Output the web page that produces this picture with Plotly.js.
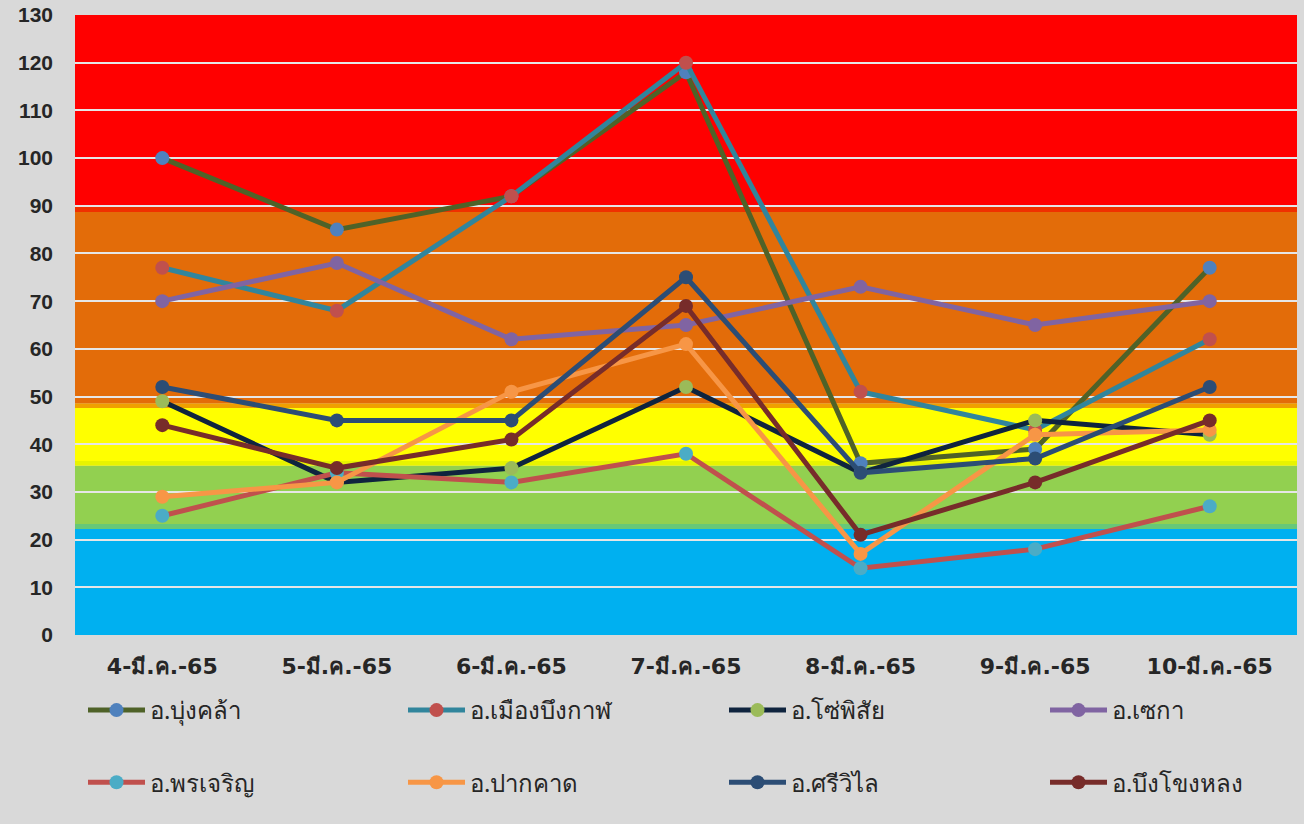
<!DOCTYPE html>
<html><head><meta charset="utf-8">
<script src="https://cdn.plot.ly/plotly-3.0.1.min.js"></script>
<style>body{margin:0;background:#d9d9d9}</style>
</head><body>
<div id="chart" style="width:1304px;height:824px"></div>
<script>
const categories = ['4-มี.ค.-65','5-มี.ค.-65','6-มี.ค.-65','7-มี.ค.-65','8-มี.ค.-65','9-มี.ค.-65','10-มี.ค.-65'];
const seriesNames = ['อ.บุ่งคล้า','อ.เมืองบึงกาฬ','อ.โซ่พิสัย','อ.เซกา','อ.พรเจริญ','อ.ปากคาด','อ.ศรีวิไล','อ.บึงโขงหลง'];
const bungKhla   = [100, 85, 92, 118, 36, 39, 77];
const mueang     = [77, 68, 92, 120, 51, 43, 62];
const soPhisai   = [49, 32, 35, 52, 34, 45, 42];
const seka       = [70, 78, 62, 65, 73, 65, 70];
const phonCharoen= [25, 34, 32, 38, 14, 18, 27];
const pakKhat    = [29, 32, 51, 61, 17, 42, 43];
const siWilai    = [52, 45, 45, 75, 34, 37, 52];
const bungKhongLong = [44, 35, 41, 69, 21, 32, 45];
const seriesValues = [bungKhla, mueang, soPhisai, seka, phonCharoen, pakKhat, siWilai, bungKhongLong];
const lineColors   = ['#4f6228','#31859c','#0f243e','#8064a2','#c0504d','#f79646','#2c4d75','#772c2a'];
const markerColors = ['#4f81bd','#c0504d','#9bbb59','#8064a2','#4bacc6','#f79646','#2c4d75','#772c2a'];
const legendIds    = ['legend','legend2','legend3','legend4','legend','legend2','legend3','legend4'];
// background bands [from, to, colour]
const bandLimits = [0, 22.2, 23.3, 35.5, 36.5, 47.6, 48.6, 88.7, 90, 130];
const bandColors = ['#00b0f0','#66c878','#92d050','#e8f400','#ffff00','#f0a000','#e36c09','#f03000','#ff0000'];
const yTicks = [0,10,20,30,40,50,60,70,80,90,100,110,120,130];

const traces = seriesNames.map((n,i)=>({
  type:'scatter', mode:'lines+markers', name:n, x:categories, y:seriesValues[i],
  line:{color:lineColors[i], width:5},
  marker:{color:markerColors[i], size:14},
  legend: legendIds[i], legendgroup:'g'+i
}));

const shapes = bandColors.map((c,i)=>({
  type:'rect', xref:'paper', yref:'y', x0:0, x1:1, y0:bandLimits[i], y1:bandLimits[i+1],
  fillcolor:c, line:{width:0}, layer:'below'
}));

const legFont = {family:'Noto Sans, sans-serif', size:24, color:'#262626'};
function leg(xpx){
  return {x:(xpx-75)/1222, y:(635-688)/620, xanchor:'left', yanchor:'top', orientation:'v',
    bgcolor:'rgba(0,0,0,0)', font:legFont, itemwidth:57, tracegroupgap:38, traceorder:'grouped'};
}

const layout = {
  width:1304, height:824,
  paper_bgcolor:'#d9d9d9', plot_bgcolor:'#d9d9d9',
  margin:{l:75, r:7, t:15, b:189},
  shapes: shapes,
  showlegend:true,
  legend: leg(83), legend2: leg(403), legend3: leg(724), legend4: leg(1045),
  xaxis:{type:'category', range:[-0.5,6.5], tickfont:{family:'DejaVu Sans, sans-serif', size:22, color:'#262626', weight:'bold'},
    showgrid:false, zeroline:false, showline:false, ticks:'', ticklabelstandoff:16},
  yaxis:{range:[0,130], tickvals:yTicks, tickfont:{family:'Arial, Liberation Sans, sans-serif', size:21, color:'#262626', weight:'bold'},
    gridcolor:'#e6e6e6', gridwidth:2, zeroline:false, showline:false, ticks:'', ticklabelstandoff:21}
};

Plotly.newPlot('chart', traces, layout, {displayModeBar:false});
</script>
</body></html>
